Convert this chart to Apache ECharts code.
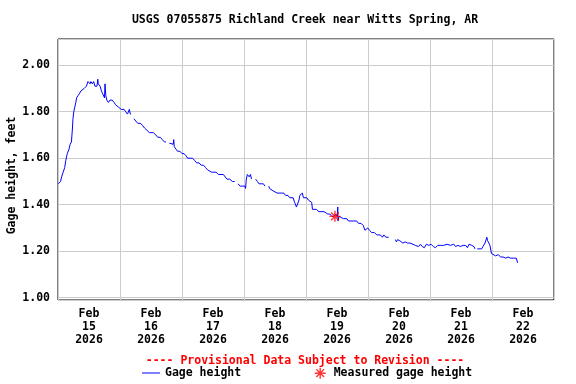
<!DOCTYPE html>
<html>
<head>
<meta charset="utf-8">
<script src="https://cdn.jsdelivr.net/npm/echarts@6/dist/echarts.min.js"></script>
<style>html,body{margin:0;padding:0;background:#fff;}#chart{width:576px;height:384px;}</style>
</head>
<body>
<div id="chart"></div>
<script>
// Start of the plot period (UTC): Feb 15 2026 00:00
const startYear = 2026, startMonth = 1, startDay = 15, dayCount = 8;
const titleText = 'USGS 07055875 Richland Creek near Witts Spring, AR';
const provisionalText = '---- Provisional Data Subject to Revision ----';
const yAxisName = 'Gage height, feet';
const monthNames = ['Jan','Feb','Mar','Apr','May','Jun','Jul','Aug','Sep','Oct','Nov','Dec'];

// Gage height readings: hours since Feb 15 00:00, value in feet (null = gap)
const gageHours = [
  0.1,1.0,1.4,2.0,2.6,3.0,3.4,3.6,4.3,4.7,5.2,5.4,5.6,5.8,6.1,6.5,6.9,7.2,7.8,8.4,
  8.9,9.4,10.1,11.0,11.6,12.0,12.4,12.7,13.3,13.8,14.2,14.3,15.1,15.4,15.6,16.3,16.8,17.2,17.6,18.0,
  18.2,18.5,18.9,19.5,20.1,21.0,21.7,22.3,23.4,23.9,24.5,25.6,26.2,26.9,27.6,28.0,28.3,28.8,29.4,30.1,
  30.9,32.0,32.8,33.5,34.1,35.4,36.9,37.9,38.6,39.6,40.4,41.2,41.8,42.4,43.1,43.7,44.6,44.8,45.0,45.6,
  46.3,47.2,48.0,48.8,49.6,50.2,51.2,52.1,52.9,53.7,54.6,55.4,56.3,57.1,57.9,58.6,59.4,60.3,61.2,62.1,
  63.1,64.0,64.5,65.4,66.5,67.5,68.4,69.0,69.7,70.5,71.4,72.3,72.6,72.9,73.3,74.0,74.5,74.9,75.7,76.5,
  77.2,77.8,78.7,79.5,80.1,80.8,81.6,81.9,82.5,83.2,83.9,84.8,85.6,86.5,87.4,88.1,89.0,89.7,90.3,91.0,
  91.6,92.3,92.9,93.3,93.6,94.3,94.6,95.0,95.6,96.3,96.9,97.5,98.2,98.5,99.2,100.0,101.0,101.8,103.0,103.6,
  104.4,105.2,106.0,106.8,107.5,108.1,108.3,108.4,108.8,109.6,110.5,111.8,112.4,113.0,114.3,115.6,116.3,117.3,118.2,118.8,
  119.2,119.9,120.6,121.4,122.5,123.4,124.0,124.8,125.6,126.1,126.9,127.5,128.0,129.3,130.6,131.0,131.5,132.3,133.0,133.5,
  134.4,135.3,136.2,137.4,138.3,139.6,140.3,141.0,141.8,142.6,143.5,144.4,145.3,146.1,147.0,148.0,149.3,150.6,151.9,153.2,
  153.9,154.8,155.8,156.8,157.8,158.5,159.1,160.2,161.0,161.4,161.8,162.3,163.0,164.0,164.5,165.3,166.0,166.3,166.8,167.2,
  167.8,168.5,169.4,170.4,171.4,172.3,173.3,174.2,175.2,176.3,177.4,177.9
];
const gageFeet = [
  1.49,1.50,1.52,1.54,1.56,1.59,1.61,1.62,1.64,1.66,1.67,1.70,1.73,1.77,1.80,1.82,1.84,1.86,1.87,1.88,
  1.89,1.89,1.90,1.91,1.93,1.93,1.92,1.93,1.92,1.93,1.93,1.91,1.91,1.94,1.92,1.91,1.89,1.88,1.88,1.86,
  1.92,1.87,1.85,1.84,1.85,1.85,1.84,1.83,1.82,1.82,1.81,1.81,1.80,1.79,1.81,1.79,1.79,null,1.77,1.76,
  1.75,1.75,1.74,1.73,1.725,1.71,1.71,1.70,1.69,1.69,1.68,1.67,1.67,null,1.665,1.66,1.66,1.68,1.65,1.64,
  1.63,1.63,1.62,1.62,1.61,1.60,1.60,1.60,1.59,1.58,1.58,1.57,1.57,1.56,1.55,1.55,1.54,1.54,1.54,1.53,
  1.53,1.53,1.53,1.51,1.51,1.50,1.50,null,1.49,1.48,1.48,1.48,1.47,1.51,1.53,1.52,1.53,1.51,null,1.51,
  1.50,1.49,1.49,1.49,1.48,null,1.48,1.47,1.47,1.46,1.46,1.45,1.45,1.45,1.45,1.44,1.44,1.43,1.43,1.43,
  1.41,1.39,1.39,1.42,1.44,1.44,1.45,1.43,1.43,1.43,1.42,1.42,1.41,1.38,1.38,1.38,1.37,1.37,1.37,1.37,
  1.36,1.36,1.35,1.35,1.36,1.35,1.39,1.33,1.35,1.345,1.34,1.34,1.33,1.33,1.33,1.33,1.32,1.32,1.31,1.29,
  1.29,1.30,1.29,1.28,1.28,1.27,1.27,1.27,1.26,1.27,1.26,1.26,1.26,null,1.25,1.24,1.25,1.245,1.24,1.235,
  1.24,1.235,1.235,1.23,1.225,1.22,1.23,1.22,1.215,1.23,1.225,1.23,1.22,1.215,1.225,1.225,1.225,1.23,1.225,1.23,
  1.22,1.225,1.22,1.225,1.225,1.215,1.23,1.225,1.22,1.21,null,1.21,1.215,1.21,1.22,1.235,1.26,1.245,1.235,1.225,
  1.19,1.185,1.18,1.185,1.175,1.175,1.17,1.175,1.17,1.17,1.17,1.15
];

// Field measurement
const measuredHours = [107.2];
const measuredFeet = [1.35];

const HOUR = 3600000, DAY = 86400000;
const t0 = Date.UTC(startYear, startMonth, startDay);
const tEnd = t0 + dayCount * DAY;

const gageData = gageHours.map((h, i) => [t0 + h * HOUR, gageFeet[i] === null ? null : gageFeet[i]]);
const measuredData = measuredHours.map((h, i) => [t0 + h * HOUR, measuredFeet[i]]);

const FONT = 'DejaVu Sans Mono';
const FS = 11.5;
const starPath = 'path://M5,0L5,10M0,5L10,5M1.5,1.5L8.5,8.5M8.5,1.5L1.5,8.5';
const linePath = 'path://M0,0L18,0L18,1L0,1Z';

const chart = echarts.init(document.getElementById('chart'), null, {renderer: 'canvas'});
chart.setOption({
  animation: false,
  backgroundColor: '#ffffff',
  title: [
    {text: titleText, left: 300, top: 9, textAlign: 'center',
     textStyle: {fontFamily: FONT, fontSize: FS, fontWeight: 'bold', color: '#000'}},
    {text: provisionalText, left: 300, top: 350, textAlign: 'center',
     textStyle: {fontFamily: FONT, fontSize: FS, fontWeight: 'bold', color: '#ff0000'}}
  ],
  legend: [
    {data: [{name: 'Gage height', icon: linePath, itemStyle: {color: '#0000ff', borderWidth: 0}}],
     left: 142, top: 367, padding: 0, itemWidth: 18, itemHeight: 12, symbolKeepAspect: true,
     textStyle: {fontFamily: FONT, fontSize: FS, fontWeight: 'bold', color: '#000'}},
    {data: [{name: 'Measured gage height', icon: starPath,
             itemStyle: {color: 'rgba(0,0,0,0)', borderColor: '#ff0000', borderWidth: 1.4}}],
     left: 314, top: 367, padding: 0, itemWidth: 17, itemHeight: 11,
     textStyle: {fontFamily: FONT, fontSize: FS, fontWeight: 'bold', color: '#000'}}
  ],
  grid: {left: 58, top: 39, width: 496, height: 261, show: true, containLabel: false,
         outerBoundsMode: 'none',
         borderColor: '#000', borderWidth: 1, backgroundColor: 'transparent'},
  xAxis: [
    {type: 'value', min: t0, max: tEnd, interval: DAY,
     axisLine: {show: false}, axisTick: {show: false}, axisLabel: {show: false},
     splitLine: {show: true, lineStyle: {color: '#cccccc', width: 1}}},
    {type: 'value', min: t0, max: tEnd, interval: DAY / 2, position: 'bottom',
     axisLine: {show: false}, axisTick: {show: false}, splitLine: {show: false},
     axisLabel: {show: true, margin: 8, fontFamily: FONT, fontSize: FS, fontWeight: 'bold',
       color: '#000', lineHeight: 13, showMinLabel: true, showMaxLabel: true,
       formatter: function (v) {
         if (Math.round((v - t0) / HOUR) % 24 !== 12) return '';
         const d = new Date(v);
         return monthNames[d.getUTCMonth()] + '\n' + d.getUTCDate() + '\n' + d.getUTCFullYear();
       }}}
  ],
  yAxis: {
    type: 'value', min: 0.99, max: 2.113, splitNumber: 5,
    name: yAxisName, nameLocation: 'middle', nameGap: 40, nameRotate: 90, nameMoveOverlap: false,
    nameTextStyle: {fontFamily: FONT, fontSize: FS, fontWeight: 'bold', color: '#000',
      padding: [0, 12, 0, 0]},
    axisLine: {show: false}, axisTick: {show: false},
    axisLabel: {margin: 8, fontFamily: FONT, fontSize: FS, fontWeight: 'bold', color: '#000',
      showMinLabel: false, showMaxLabel: false,
      formatter: v => v.toFixed(2)},
    splitLine: {show: true, lineStyle: {color: '#cccccc', width: 1}}
  },
  series: [
    {name: 'Gage height', type: 'line', xAxisIndex: 0, data: gageData, symbol: 'none',
     connectNulls: false, lineStyle: {color: '#0000ff', width: 1}, itemStyle: {color: '#0000ff'}},
    {name: 'Measured gage height', type: 'scatter', xAxisIndex: 0, data: measuredData,
     symbol: starPath, symbolSize: 11, z: 5,
     itemStyle: {color: 'rgba(0,0,0,0)', borderColor: '#ff0000', borderWidth: 1.4}}
  ]
});
</script>
</body>
</html>
